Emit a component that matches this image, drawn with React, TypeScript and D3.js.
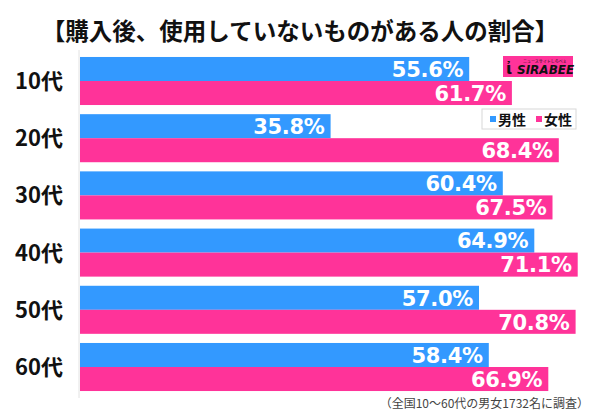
import { useEffect, useRef } from "react"
import * as d3 from "d3"

const title = "【購入後、使用していないものがある人の割合】"
const categories = ["10代", "20代", "30代", "40代", "50代", "60代"]
const maleValues = [55.6, 35.8, 60.4, 64.9, 57.0, 58.4]
const femaleValues = [61.7, 68.4, 67.5, 71.1, 70.8, 66.9]
const seriesNames = ["男性", "女性"]
const note = "（全国10〜60代の男女1732名に調査）"

const BLUE = "#3399ff"
const PINK = "#ff3399"
const JP = "'Noto Sans CJK JP', 'Noto Sans', sans-serif"

export default function App() {
  const svgRef = useRef<SVGSVGElement>(null)

  useEffect(() => {
    if (!svgRef.current) return
    const svg = d3.select(svgRef.current)
    svg.selectAll("*").remove()

    const width = 600
    const height = 419

    svg.attr("width", width).attr("height", height)
    svg.append("rect").attr("width", width).attr("height", height).attr("fill", "#fff")

    const x = d3.scaleLinear().domain([0, 74]).range([80, 598])
    const y = d3
      .scaleBand()
      .domain(categories)
      .range([52.4, 395.6])
      .paddingInner(0.16)
      .paddingOuter(0.08)
    const sub = d3.scaleBand().domain(seriesNames).range([0, y.bandwidth()])

    // title
    svg
      .append("text")
      .attr("x", width / 2)
      .attr("y", 40)
      .attr("text-anchor", "middle")
      .style("font-family", JP)
      .style("font-weight", "bold")
      .style("font-size", "23.5px")
      .style("fill", "#111")
      .text(title)

    // axis line
    svg
      .append("line")
      .attr("x1", x(0) - 1)
      .attr("x2", x(0) - 1)
      .attr("y1", 50)
      .attr("y2", 398)
      .attr("stroke", "#e2e2e2")
      .attr("stroke-width", 1)

    const rows = categories.map((c, i) => ({ cat: c, male: maleValues[i], female: femaleValues[i] }))

    const row = svg
      .selectAll(".row")
      .data(rows)
      .enter()
      .append("g")
      .attr("class", "row")
      .attr("transform", (d) => `translate(0,${y(d.cat)})`)

    row
      .append("text")
      .attr("x", 63)
      .attr("y", y.bandwidth() / 2)
      .attr("dy", "0.36em")
      .attr("text-anchor", "end")
      .style("font-family", JP)
      .style("font-weight", "bold")
      .style("font-size", "22px")
      .style("fill", "#111")
      .text((d) => d.cat)

    const series = [
      { key: "male", name: seriesNames[0], color: BLUE },
      { key: "female", name: seriesNames[1], color: PINK },
    ] as const

    series.forEach((s) => {
      row
        .append("rect")
        .attr("x", x(0))
        .attr("y", sub(s.name) as number)
        .attr("width", (d) => x(d[s.key]) - x(0))
        .attr("height", sub.bandwidth())
        .attr("fill", s.color)

      row
        .append("text")
        .attr("x", (d) => x(d[s.key]) - 6)
        .attr("y", (sub(s.name) as number) + sub.bandwidth() / 2)
        .attr("dy", "0.37em")
        .attr("text-anchor", "end")
        .style("font-family", "'DejaVu Sans', sans-serif")
        .style("font-weight", "bold")
        .style("font-size", "21px")
        .style("letter-spacing", "-0.3px")
        .style("fill", "#fff")
        .text((d) => `${d[s.key].toFixed(1)}%`)
    })

    // logo
    const logo = svg.append("g").attr("transform", "translate(503,56)")
    logo.append("rect").attr("width", 70).attr("height", 21).attr("fill", PINK)
    logo
      .append("text")
      .attr("x", 14)
      .attr("y", 18)
      .style("font-family", "'DejaVu Sans', sans-serif")
      .style("font-weight", "bold")
      .style("font-style", "italic")
      .style("font-size", "12px")
      .style("fill", "#111")
      .text("SIRABEE")
    logo
      .append("text")
      .attr("x", 20)
      .attr("y", 7)
      .style("font-family", JP)
      .style("font-size", "4px")
      .style("fill", "#111")
      .text("ニュースサイトしらべぇ")
    logo
      .append("text")
      .attr("x", 3)
      .attr("y", 18)
      .style("font-family", "'DejaVu Sans', sans-serif")
      .style("font-weight", "bold")
      .style("font-size", "16px")
      .style("fill", "#111")
      .text("ἰ")

    // legend
    const legend = svg.append("g").attr("transform", "translate(482,109)")
    legend
      .append("rect")
      .attr("width", 94)
      .attr("height", 20)
      .attr("fill", "#fff")
      .attr("stroke", "#d8d8d8")
    series.forEach((s, i) => {
      const item = legend.append("g").attr("transform", `translate(${8 + i * 46},0)`)
      item.append("rect").attr("x", 0).attr("y", 7).attr("width", 6).attr("height", 6).attr("fill", s.color)
      item
        .append("text")
        .attr("x", 8)
        .attr("y", 15.5)
        .style("font-family", JP)
        .style("font-weight", "bold")
        .style("font-size", "14px")
        .style("fill", "#111")
        .text(s.name)
    })

    // note
    svg
      .append("text")
      .attr("x", 589)
      .attr("y", 408)
      .attr("text-anchor", "end")
      .style("font-family", JP)
      .style("font-size", "12px")
      .style("fill", "#444")
      .text(note)
  }, [])

  return (
    <div style={{ position: "absolute", left: 0, top: 0 }}>
      <svg ref={svgRef} style={{ display: "block" }}></svg>
    </div>
  )
}
